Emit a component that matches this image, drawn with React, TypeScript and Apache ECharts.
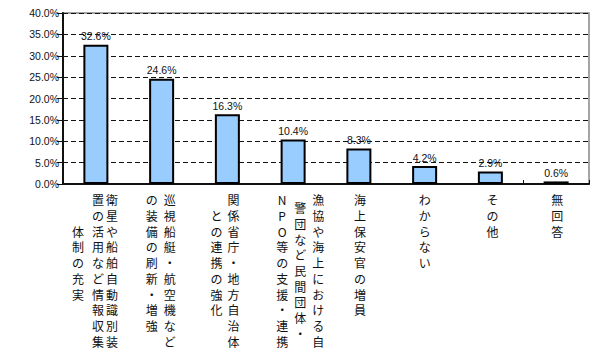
import React, { useEffect, useRef } from "react";
import * as echarts from "echarts";

// Category labels, each split into its vertical columns (right to left)
const labelColumns: string[][] = [
  ["衛星や船舶自動識別装", "置の活用など情報収集", "体制の充実"],
  ["巡視船艇・航空機など", "の装備の刷新・増強"],
  ["関係省庁・地方自治体", "との連携の強化"],
  ["漁協や海上における自", "警団など民間団体・", "NPO等の支援・連携"],
  ["海上保安官の増員"],
  ["わからない"],
  ["その他"],
  ["無回答"],
];
const categories: string[] = labelColumns.map((cols) => cols.join(""));
const values: number[] = [32.6, 24.6, 16.3, 10.4, 8.3, 4.2, 2.9, 0.6];
const yTicks: number[] = [0, 5, 10, 15, 20, 25, 30, 35, 40];

// layout: per column horizontal offset (px) and starting row
const colOffsets: number[][] = [
  [16, 2, -18],
  [8, -10],
  [6, -11],
  [25, 7, -11],
  [1],
  [0],
  [2],
  [1],
];
const colStartRows: number[][] = [
  [0, 0, 2],
  [0, 0],
  [0, 1],
  [0, 0.5, 0],
  [0],
  [0],
  [0],
  [0],
];

const ROW_H = 15.7;
const LABEL_FONT = '12px "Noto Sans CJK JP", sans-serif';

export default function App() {
  const ref = useRef<HTMLDivElement>(null);
  useEffect(() => {
    if (!ref.current) return;
    const chart = echarts.init(ref.current, null, { renderer: "svg" });
    const option: any = {
      animation: false,
      backgroundColor: "#fff",
      grid: {
        left: 63,
        right: 25,
        top: 13,
        bottom: 178,
        show: true,
        borderColor: "#888",
        borderWidth: 1.5,
        backgroundColor: "transparent",
      },
      xAxis: {
        type: "category",
        data: categories,
        boundaryGap: true,
        axisLine: { show: true, lineStyle: { color: "#111", width: 2 } },
        axisTick: {
          show: true,
          inside: true,
          length: 4,
          lineStyle: { color: "#111", width: 1 },
        },
        axisLabel: { show: false },
        splitLine: { show: false },
      },
      yAxis: {
        type: "value",
        min: yTicks[0],
        max: yTicks[yTicks.length - 1],
        interval: 5,
        axisLine: { show: true, lineStyle: { color: "#111", width: 2 } },
        axisTick: {
          show: true,
          length: 6,
          lineStyle: { color: "#111", width: 1 },
        },
        axisLabel: {
          margin: 4,
          color: "#111",
          fontFamily: "Liberation Sans, Arial, sans-serif",
          fontSize: 10.5,
          formatter: (v: number) => v.toFixed(1) + "%",
        },
        splitLine: {
          show: true,
          lineStyle: { color: "#111", width: 1, type: [5, 3] },
        },
      },
      series: [
        {
          type: "bar",
          data: values,
          barWidth: 25,
          itemStyle: {
            color: "#99CCFF",
            borderColor: "#000",
            borderWidth: 2,
          },
          label: {
            show: true,
            position: "top",
            distance: 3,
            color: "#111",
            fontFamily: "Liberation Sans, Arial, sans-serif",
            fontSize: 10.5,
            formatter: (p: any) => p.value.toFixed(1) + "%",
          },
          z: 3,
        },
      ],
    };
    chart.setOption(option);

    const elements: any[] = [];
    labelColumns.forEach((cols, i) => {
      const pt = chart.convertToPixel({ gridIndex: 0 }, [i, 0]) as number[];
      if (!pt) return;
      const [cx, y0] = pt;
      cols.forEach((col, j) => {
        elements.push({
          type: "text",
          silent: true,
          x: cx + colOffsets[i][j],
          y: y0 + 8 + colStartRows[i][j] * ROW_H,
          style: {
            text: col.split("").join("\n"),
            font: LABEL_FONT,
            lineHeight: ROW_H,
            fill: "#111",
            align: "center",
            verticalAlign: "top",
          },
        });
      });
    });
    chart.setOption({ graphic: { elements } });

    return () => chart.dispose();
  }, []);
  return (
    <div
      ref={ref}
      style={{ position: "fixed", left: 0, top: 0, width: 614, height: 362 }}
    />
  );
}
